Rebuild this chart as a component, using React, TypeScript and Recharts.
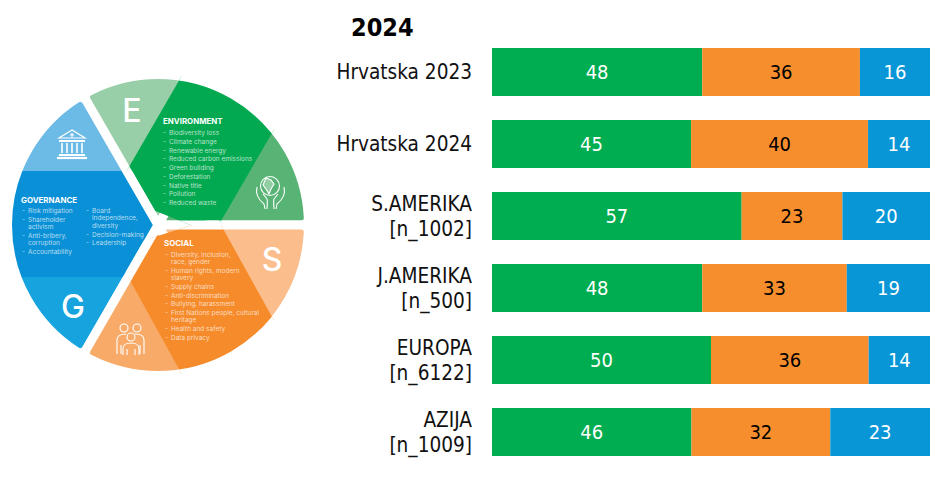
import React from "react";
import { BarChart, Bar, XAxis, YAxis, LabelList, PieChart, Pie, Cell } from "recharts";

const categories = ["Hrvatska 2023", "Hrvatska 2024", "S.AMERIKA|[n_1002]", "J.AMERIKA|[n_500]", "EUROPA|[n_6122]", "AZIJA|[n_1009]"];
const greenValues = [48, 45, 57, 48, 50, 46];
const orangeValues = [36, 40, 23, 33, 36, 32];
const blueValues = [16, 14, 20, 19, 14, 23];
const rows = categories.map((name, i) => ({ name, green: greenValues[i], orange: orangeValues[i], blue: blueValues[i] }));

const wheelParts = [1, 1, 1, 1, 1, 1];
const wheelPartColors = ["#58B474", "#98CFA8", "#6CBAE6", "#16A3DE", "#F8AB69", "#FBBD8B"];
const wheelCores = [2, 2, 2];
const wheelCoreColors = ["#03A950", "#0A90D6", "#F68B2B"];

const environmentItems = [["Biodiversity loss"], ["Climate change"], ["Renewable energy"], ["Reduced carbon emissions"], ["Green building"], ["Deforestation"], ["Native title"], ["Pollution"], ["Reduced waste"]];
const socialItems = [["Diversity, inclusion,", "race, gender"], ["Human rights, modern", "slavery"], ["Supply chains"], ["Anti-discrimination"], ["Bullying, harassment"], ["First Nations people, cultural", "heritage"], ["Health and safety"], ["Data privacy"]];
const governanceLeft = [["Risk mitigation"], ["Shareholder", "activism"], ["Anti-bribery,", "corruption"], ["Accountability"]];
const governanceRight = [["Board", "independence,", "diversity"], ["Decision-making"], ["Leadership"]];

const W = 943;
const H = 498;
const LABEL_FONT = "'DejaVu Sans Condensed', 'DejaVu Sans', sans-serif";
const WHEEL_FONT = "Inter, 'Noto Sans', sans-serif";

const CategoryTick = (props: any) => {
  const { y, payload } = props;
  const lines = String(payload.value).split("|");
  const right = 472;
  return (
    <text textAnchor="end" fontFamily={LABEL_FONT} fontSize={20.6} fill="#111">
      {lines.length === 1 ? (
        <tspan x={right} y={y + 7}>{lines[0]}</tspan>
      ) : (
        <>
          <tspan x={right} y={y - 5}>{lines[0]}</tspan>
          <tspan x={right} y={y + 20}>{lines[1]}</tspan>
        </>
      )}
    </text>
  );
};

const ItemList = ({ items, x, y, pitch, wrap }: { items: string[][]; x: number; y: number; pitch: number; wrap: number }) => {
  let cy = y;
  const out: React.ReactNode[] = [];
  items.forEach((lines, i) => {
    lines.forEach((line, j) => {
      if (j === 0) {
        out.push(<text key={`d${i}`} x={x - 6} y={cy} fontSize={6.5} fill="#fff" fillOpacity={0.65} fontFamily={WHEEL_FONT}>-</text>);
      }
      out.push(<text key={`${i}-${j}`} x={x} y={cy} fontSize={6.5} fill="#fff" fillOpacity={0.7} fontFamily={WHEEL_FONT}>{line}</text>);
      cy += j < lines.length - 1 ? wrap : pitch;
    });
  });
  return <g>{out}</g>;
};

const Heading = ({ x, y, children }: { x: number; y: number; children: string }) => (
  <text x={x} y={y} fontSize={7.9} fontWeight={700} fill="#fff" fontFamily={WHEEL_FONT}>{children}</text>
);
const Letter = ({ x, y, children }: { x: number; y: number; children: string }) => (
  <text x={x} y={y} fontSize={32} fontWeight={500} fill="#fff" textAnchor="middle" fontFamily={WHEEL_FONT}>{children}</text>
);

const Overlay = () => (
  <svg width={W} height={H} style={{ position: "absolute", left: 0, top: 0, pointerEvents: "none" }}>
    <Heading x={163} y={124}>ENVIRONMENT</Heading>
    <ItemList items={environmentItems} x={169} y={135} pitch={8.75} wrap={7.3} />
    <Heading x={21} y={203}>GOVERNANCE</Heading>
    <ItemList items={governanceLeft} x={28} y={213} pitch={8.7} wrap={7.3} />
    <ItemList items={governanceRight} x={92} y={213} pitch={8.9} wrap={7.3} />
    <Heading x={164} y={246}>SOCIAL</Heading>
    <ItemList items={socialItems} x={171} y={257} pitch={8.7} wrap={7.3} />
    <Letter x={132} y={122}>E</Letter>
    <Letter x={272} y={271}>S</Letter>
    <Letter x={73} y={318}>G</Letter>

    {/* temple */}
    <g fill="none" stroke="#fff" strokeWidth={1.2}>
      <path d="M72 130 L59 138 L85 138 Z" />
      <circle cx={72} cy={135} r={1.2} />
      <path d="M59 141 H85 M59 155 H85" strokeWidth={2} />
      <path d="M62 143 V153 M67 143 V153 M72 143 V153 M77 143 V153 M82 143 V153" strokeWidth={1.6} />
      <path d="M57 158 H87" strokeWidth={2.2} />
    </g>
    {/* hands and globe */}
    <g fill="none" stroke="#fff" strokeWidth={1.1}>
      <circle cx={270} cy={186} r={9.5} />
      <path d="M266 178 l5 2 l3 4 l-3 5 l-2 5 l-3 -5 l-3 -4 Z" fill="#fff" fillOpacity={0.35} />
      <path d="M257 187 C255 195 259 200 264 204 L265 209 M263 194 L267 199 C268 202 267 204 267 209" />
      <path d="M284 187 C286 195 282 200 277 204 L276 209 M278 194 L274 199 C273 202 274 204 274 209" />
    </g>
    {/* people */}
    <g fill="none" stroke="#fff" strokeWidth={1.1}>
      <circle cx={124} cy={328} r={4} />
      <circle cx={137} cy={328} r={4} />
      <circle cx={131} cy={337} r={4} />
      <path d="M117 354 V340 C117 335 121 334 126 334 M144 354 V340 C144 335 140 334 135 334" />
      <path d="M123 355 V349 C123 344 126 343 131 343 C136 343 139 344 139 349 V355" />
      <path d="M127 355 V349 M135 355 V349 M121 354 V345 M140 354 V345" />
    </g>
    <text x={351} y={36} fontFamily={LABEL_FONT} fontSize={25} fontWeight={700} fill="#000">2024</text>
  </svg>
);

export default function App() {
  return (
    <div style={{ position: "absolute", left: 0, top: 0, width: W, height: H, overflow: "hidden", background: "#fff" }}>
      <svg width={0} height={0} style={{ position: "absolute" }}>
        <defs>
          <clipPath id="core-0"><polygon points="186.7,67.3 286.7,107.7 213.3,234.3 113.3,194" /></clipPath>
          <clipPath id="core-1"><rect x={0} y={171} width={158} height={106} /></clipPath>
          <clipPath id="core-2"><polygon points="216.7,217.3 290,349.3 191.7,392.3 113.3,250" /></clipPath>
        </defs>
      </svg>
      <div style={{ position: "absolute", left: 0, top: 0 }}>
        <PieChart width={W} height={H} margin={{ top: 0, right: 0, bottom: 0, left: 0 }}>
          <Pie data={wheelParts.map((value) => ({ value }))} dataKey="value" cx={158} cy={225} innerRadius={0} outerRadius={150.5} startAngle={0} endAngle={360} cornerRadius={7} stroke="#fff" strokeWidth={9} strokeLinejoin="round" isAnimationActive={false}>
            {wheelPartColors.map((c) => <Cell key={c} fill={c} />)}
          </Pie>
          <Pie data={wheelCores.map((value) => ({ value }))} dataKey="value" cx={158} cy={225} innerRadius={0} outerRadius={150.5} startAngle={0} endAngle={360} cornerRadius={7} stroke="#fff" strokeWidth={9} strokeLinejoin="round" isAnimationActive={false}>
            {wheelCoreColors.map((c, i) => <Cell key={c} fill={c} clipPath={`url(#core-${i})`} />)}
          </Pie>
        </PieChart>
      </div>
      <div style={{ position: "absolute", left: 0, top: 0 }}>
        <BarChart width={W} height={H} data={rows} layout="vertical" stackOffset="expand" margin={{ top: 36, right: 13, bottom: 30, left: 0 }} barSize={48}>
          <XAxis type="number" domain={[0, 1]} hide />
          <YAxis type="category" dataKey="name" width={492} tick={<CategoryTick />} tickLine={false} axisLine={false} interval={0} />
          <Bar dataKey="green" stackId="a" fill="#00AD50" isAnimationActive={false}>
            <LabelList dataKey="green" position="center" fill="#fff" fontSize={20} fontFamily={LABEL_FONT} />
          </Bar>
          <Bar dataKey="orange" stackId="a" fill="#F78E2E" isAnimationActive={false}>
            <LabelList dataKey="orange" position="center" fill="#000" fontSize={20} fontFamily={LABEL_FONT} />
          </Bar>
          <Bar dataKey="blue" stackId="a" fill="#0896D7" isAnimationActive={false}>
            <LabelList dataKey="blue" position="center" fill="#fff" fontSize={20} fontFamily={LABEL_FONT} />
          </Bar>
        </BarChart>
      </div>
      <Overlay />
    </div>
  );
}
